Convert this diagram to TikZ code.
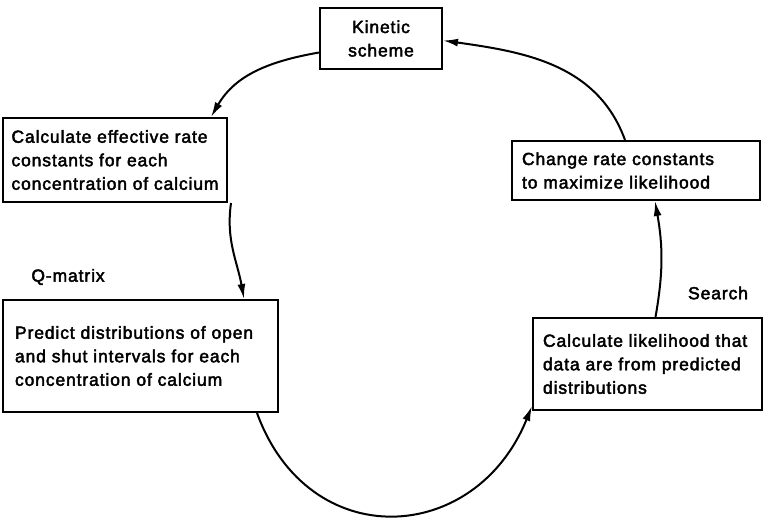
\documentclass[tikz,border=0pt]{standalone}
\usepackage{fontspec}
\setmainfont{Liberation Sans}[LetterSpace=5,FakeBold=2.5]
\usetikzlibrary{arrows.meta}

\begin{document}
\begin{tikzpicture}[x=1pt,y=1pt,
  box/.style={draw,line width=2pt,inner sep=0pt,align=left,font=\fontsize{17.5}{23.5}\selectfont},
  lbl/.style={inner sep=0pt,font=\fontsize{17.5}{23.5}\selectfont},
  link/.style={line width=2pt,-{Latex[length=15pt,width=8pt]}}]
\useasboundingbox (0,0) rectangle (765,-521);
\node[box,minimum width=122,minimum height=61,align=center] (kin) at (381,-38.5) {Kinetic\\scheme};
\node[box,minimum width=224,minimum height=84] (rate) at (115,-160) {Calculate effective rate\\constants for each\\concentration of calcium};
\node[box,inner xsep=10pt,text width=228,minimum height=59] (chg) at (636,-170.5) {Change rate constants\\to maximize likelihood};
\node[box,inner xsep=12pt,text width=251,minimum height=112] (pred) at (140.5,-356) {Predict distributions of open\\and shut intervals for each\\concentration of calcium};
\node[box,inner xsep=10pt,text width=209,minimum height=92] (lik) at (647.5,-364) {Calculate likelihood that\\data are from predicted\\distributions};
\node[lbl] (qm) at (68,-277) {Q-matrix};
\node[lbl] (srch) at (718,-293) {Search};
\draw[link] ([yshift=-14pt]kin.west) to[out=190,in=60] ([xshift=-17pt]rate.north east);
\draw[link] ([xshift=3pt]rate.south east) to[out=262,in=100] ([xshift=-35pt]pred.north east);
\draw[link] ([xshift=-22pt]pred.south east) to[out=-70,in=248,looseness=1.4] ([yshift=5pt]lik.south west);
\draw[link] ([xshift=8pt]lik.north) to[out=80,in=-80] ([xshift=19pt]chg.south);
\draw[link] ([xshift=-11pt]chg.north) to[out=110,in=-8] ([yshift=-2pt]kin.east);
\end{tikzpicture}
\end{document}
